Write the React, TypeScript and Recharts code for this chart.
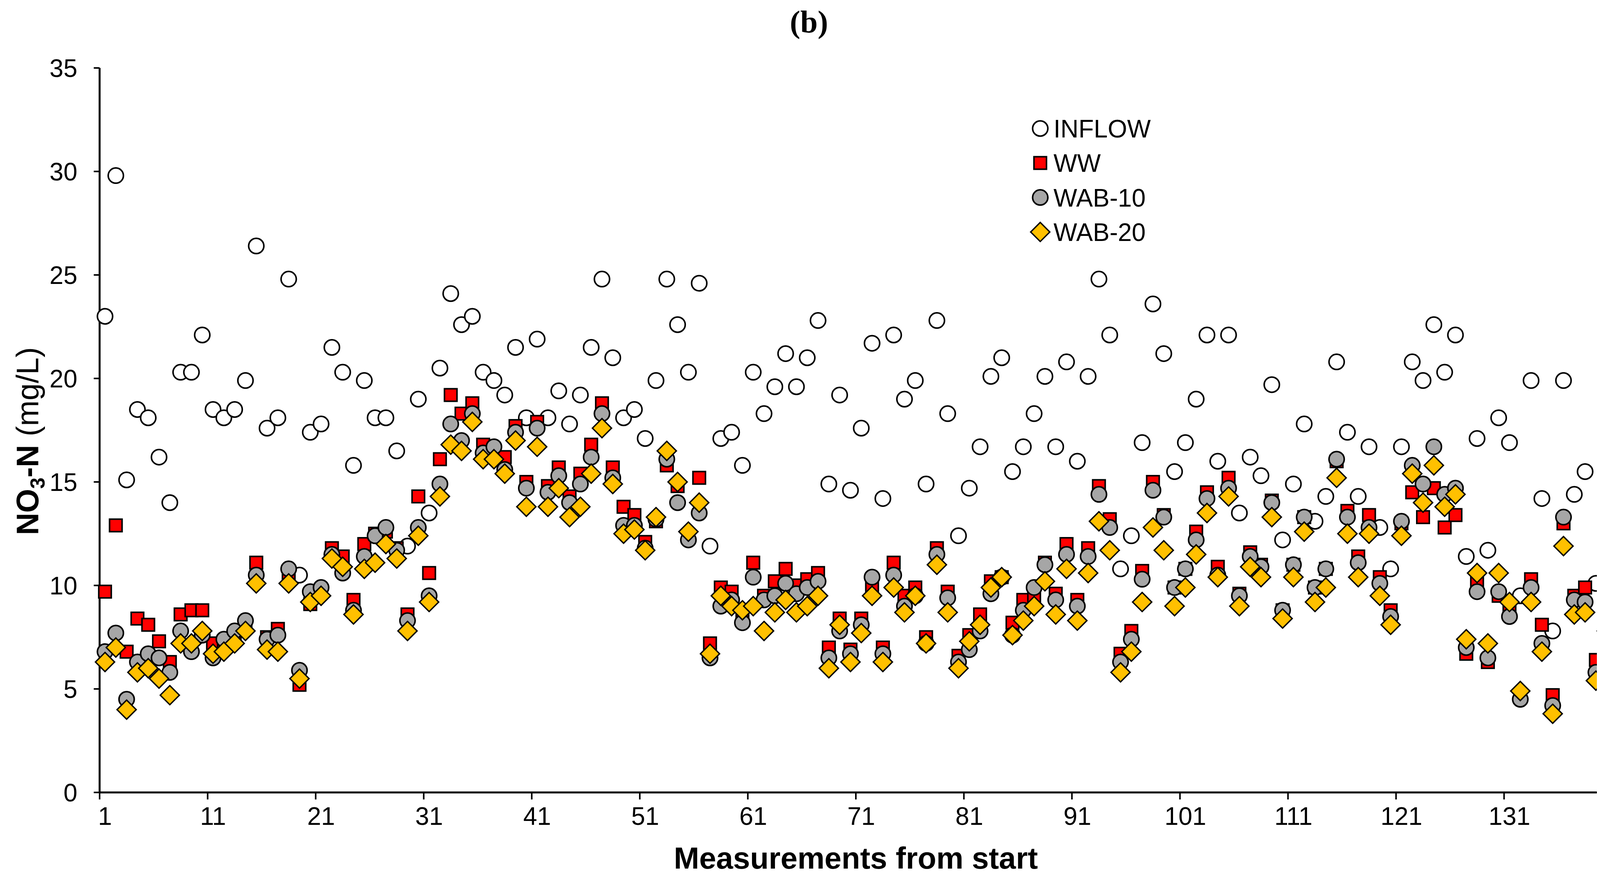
import React from "react";
import {
  ScatterChart,
  Scatter,
  XAxis,
  YAxis,
  Legend,
  Label,
} from "recharts";

// NO3-N concentrations (mg/L), measurements 1..140
const inflow = [
  23.0, 29.8, 15.1, 18.5, 18.1, 16.2, 14.0, 20.3, 20.3, 22.1,
  18.5, 18.1, 18.5, 19.9, 26.4, 17.6, 18.1, 24.8, 10.5, 17.4,
  17.8, 21.5, 20.3, 15.8, 19.9, 18.1, 18.1, 16.5, 11.9, 19.0,
  13.5, 20.5, 24.1, 22.6, 23.0, 20.3, 19.9, 19.2, 21.5, 18.1,
  21.9, 18.1, 19.4, 17.8, 19.2, 21.5, 24.8, 21.0, 18.1, 18.5,
  17.1, 19.9, 24.8, 22.6, 20.3, 24.6, 11.9, 17.1, 17.4, 15.8,
  20.3, 18.3, 19.6, 21.2, 19.6, 21.0, 22.8, 14.9, 19.2, 14.6,
  17.6, 21.7, 14.2, 22.1, 19.0, 19.9, 14.9, 22.8, 18.3, 12.4,
  14.7, 16.7, 20.1, 21.0, 15.5, 16.7, 18.3, 20.1, 16.7, 20.8,
  16.0, 20.1, 24.8, 22.1, 10.8, 12.4, 16.9, 23.6, 21.2, 15.5,
  16.9, 19.0, 22.1, 16.0, 22.1, 13.5, 16.2, 15.3, 19.7, 12.2,
  14.9, 17.8, 13.1, 14.3, 20.8, 17.4, 14.3, 16.7, 12.8, 10.8,
  16.7, 20.8, 19.9, 22.6, 20.3, 22.1, 11.4, 17.1, 11.7, 18.1,
  16.9, 9.5, 19.9, 14.2, 7.8, 19.9, 14.4, 15.5, 10.1, 15.1,
];

const ww = [
  9.7, 12.9, 6.8, 8.4, 8.1, 7.3, 6.3, 8.6, 8.8, 8.8,
  7.2, 7.3, 7.6, 8.2, 11.1, 7.5, 7.9, 10.6, 5.2, 9.1,
  9.7, 11.8, 11.4, 9.3, 12.0, 12.5, 12.6, 11.8, 8.6, 14.3,
  10.6, 16.1, 19.2, 18.3, 18.8, 16.8, 16.6, 16.2, 17.7, 15.0,
  17.9, 14.8, 15.7, 14.3, 15.4, 16.8, 18.8, 15.7, 13.8, 13.4,
  12.1, 13.1, 15.8, 14.8, 12.4, 15.2, 7.2, 9.9, 9.7, 8.6,
  11.1, 9.5, 10.2, 10.8, 10.0, 10.3, 10.6, 7.0, 8.4, 6.9,
  8.4, 9.9, 7.0, 11.1, 9.5, 9.9, 7.5, 11.8, 9.7, 6.6,
  7.6, 8.6, 10.2, 10.4, 8.2, 9.3, 9.5, 11.1, 9.6, 12.0,
  9.3, 11.8, 14.8, 13.2, 6.7, 7.8, 10.7, 15.0, 13.4, 9.9,
  10.8, 12.6, 14.5, 10.9, 15.2, 9.6, 11.6, 11.0, 14.1, 8.8,
  11.0, 13.3, 9.9, 10.8, 16.0, 13.6, 11.4, 13.4, 10.4, 8.8,
  13.0, 14.5, 13.3, 14.7, 12.8, 13.4, 6.7, 10.2, 6.3, 9.5,
  9.0, 4.6, 10.3, 8.1, 4.7, 13.0, 9.5, 9.9, 6.4, 8.4,
];

const wab10 = [
  6.8, 7.7, 4.5, 6.3, 6.7, 6.5, 5.8, 7.8, 6.8, 7.6,
  6.5, 7.4, 7.8, 8.3, 10.5, 7.4, 7.6, 10.8, 5.9, 9.7,
  9.9, 11.5, 10.6, 8.8, 11.4, 12.4, 12.8, 11.7, 8.3, 12.8,
  9.5, 14.9, 17.8, 17.0, 18.3, 16.4, 16.7, 15.6, 17.4, 14.7,
  17.6, 14.5, 15.3, 14.0, 14.9, 16.2, 18.3, 15.2, 12.9, 12.9,
  11.8, 13.2, 16.1, 14.0, 12.2, 13.5, 6.5, 9.0, 9.3, 8.2,
  10.4, 9.3, 9.5, 10.1, 9.6, 9.9, 10.2, 6.5, 7.8, 6.7,
  8.1, 10.4, 6.7, 10.5, 9.0, 9.5, 7.2, 11.5, 9.4, 6.3,
  6.9, 7.8, 9.6, 10.4, 7.6, 8.8, 9.9, 11.0, 9.3, 11.5,
  9.0, 11.4, 14.4, 12.8, 6.3, 7.4, 10.3, 14.6, 13.3, 9.9,
  10.8, 12.2, 14.2, 10.5, 14.7, 9.5, 11.4, 10.9, 14.0, 8.8,
  11.0, 13.3, 9.9, 10.8, 16.1, 13.3, 11.1, 12.8, 10.1, 8.5,
  13.1, 15.8, 14.9, 16.7, 14.4, 14.7, 7.0, 9.7, 6.5, 9.7,
  8.5, 4.5, 9.9, 7.2, 4.2, 13.3, 9.3, 9.2, 5.8, 8.1,
];

const wab20 = [
  6.3, 7.0, 4.0, 5.8, 6.0, 5.5, 4.7, 7.2, 7.2, 7.8,
  6.7, 6.8, 7.2, 7.8, 10.1, 6.9, 6.8, 10.1, 5.5, 9.2,
  9.5, 11.3, 10.9, 8.6, 10.8, 11.1, 12.0, 11.3, 7.8, 12.4,
  9.2, 14.3, 16.8, 16.5, 17.9, 16.1, 16.1, 15.4, 17.0, 13.8,
  16.7, 13.8, 14.7, 13.3, 13.8, 15.4, 17.6, 14.9, 12.5, 12.7,
  11.7, 13.3, 16.5, 15.0, 12.6, 14.0, 6.7, 9.5, 9.0, 8.8,
  9.0, 7.8, 8.7, 9.3, 8.7, 9.0, 9.5, 6.0, 8.1, 6.3,
  7.7, 9.5, 6.3, 9.9, 8.7, 9.5, 7.2, 11.0, 8.7, 6.0,
  7.3, 8.1, 9.9, 10.4, 7.6, 8.3, 9.0, 10.2, 8.6, 10.8,
  8.3, 10.6, 13.1, 11.7, 5.8, 6.8, 9.2, 12.8, 11.7, 9.0,
  9.9, 11.5, 13.5, 10.4, 14.3, 9.0, 10.9, 10.4, 13.3, 8.4,
  10.4, 12.6, 9.2, 9.9, 15.2, 12.5, 10.4, 12.5, 9.5, 8.1,
  12.4, 15.4, 14.0, 15.8, 13.8, 14.4, 7.4, 10.6, 7.2, 10.6,
  9.2, 4.9, 9.2, 6.8, 3.8, 11.9, 8.6, 8.7, 5.4, 7.8,
];

// tick marks sit on category boundaries, labels on the categories
const xTickBounds = [0.5, 10.5, 20.5, 30.5, 40.5, 50.5, 60.5, 70.5, 80.5, 90.5, 100.5, 110.5, 120.5, 130.5, 140.5];
const xTickLabels = [1, 11, 21, 31, 41, 51, 61, 71, 81, 91, 101, 111, 121, 131];
const yTicks = [0, 5, 10, 15, 20, 25, 30, 35];

const seriesNames = ["INFLOW", "WW", "WAB-10", "WAB-20"];

const toPoints = (values: number[]) => values.map((y, i) => ({ x: i + 1, y }));

const FONT = "'Liberation Sans', Arial, sans-serif";
const W = 4142;
const H = 2250;
const MARGIN = { top: 166, right: 23, bottom: 0, left: 0 };
const Y_AXIS_W = 247;
const X_AXIS_H = 229;
const BAND = (W - MARGIN.left - MARGIN.right - Y_AXIS_W) / 140;

function CircleMark({ cx, cy, fill }: any) {
  if (cx == null || cy == null) return null;
  return <circle cx={cx} cy={cy} r={19.5} fill={fill} stroke="#000" strokeWidth={4} />;
}

function SquareMark({ cx, cy }: any) {
  if (cx == null || cy == null) return null;
  return <rect x={cx - 16} y={cy - 16} width={32} height={32} fill="#FF0000" stroke="#000" strokeWidth={4} />;
}

function DiamondMark({ cx, cy }: any) {
  if (cx == null || cy == null) return null;
  const r = 24.5;
  return (
    <polygon
      points={`${cx},${cy - r} ${cx + r},${cy} ${cx},${cy + r} ${cx - r},${cy}`}
      fill="#FFC000"
      stroke="#000"
      strokeWidth={3.5}
    />
  );
}

function XTick({ x, y, payload }: any) {
  const label = payload.value + 0.5;
  if (!xTickLabels.includes(label)) return null;
  return (
    <text x={x + BAND / 2} y={y} dy="0.71em" textAnchor="middle" fontSize={64} fontFamily={FONT} fill="#000">
      {label}
    </text>
  );
}

function YTitle({ viewBox }: any) {
  const cx = 62;
  const cy = viewBox.y + viewBox.height / 2 + 28;
  return (
    <text
      x={cx}
      y={cy}
      transform={`rotate(-90 ${cx} ${cy})`}
      textAnchor="middle"
      dy="0.36em"
      fontSize={79}
      fontFamily={FONT}
      fill="#000"
    >
      <tspan fontWeight="bold">NO</tspan>
      <tspan fontWeight="bold" fontSize={52} dy="0.3em">3</tspan>
      <tspan fontWeight="bold" dy="-0.2em">-N</tspan>
      <tspan> (mg/L)</tspan>
    </text>
  );
}

function LegendBox() {
  const rowY = (k: number) => 51 + k * 88.3;
  return (
    <svg width={420} height={370} style={{ overflow: "visible" }}>
      <CircleMark cx={35} cy={rowY(0)} fill="#FFFFFF" />
      <SquareMark cx={35} cy={rowY(1)} />
      <CircleMark cx={35} cy={rowY(2)} fill="#A6A6A6" />
      <DiamondMark cx={35} cy={rowY(3)} />
      {seriesNames.map((name, k) => (
        <text key={name} x={69} y={rowY(k)} dy="0.36em" fontSize={64} fontFamily={FONT} fill="#000">
          {name}
        </text>
      ))}
    </svg>
  );
}

export default function App() {
  return (
    <div style={{ position: "relative", width: W, height: H }}>
      <div
        style={{
          position: "absolute",
          left: 0,
          width: 4126,
          top: 8,
          textAlign: "center",
          fontFamily: "'Liberation Serif', 'Times New Roman', serif",
          fontWeight: "bold",
          fontSize: 80,
          lineHeight: "80px",
          zIndex: 2,
        }}
      >
        (b)
      </div>
      <ScatterChart width={W} height={H} margin={MARGIN}>
        <XAxis
          type="number"
          dataKey="x"
          domain={[0.5, 140.5]}
          ticks={xTickBounds}
          interval={0}
          height={X_AXIS_H}
          tickSize={18}
          tickMargin={20}
          tick={<XTick />}
          tickLine={{ stroke: "#000", strokeWidth: 4 }}
          axisLine={{ stroke: "#000", strokeWidth: 5 }}
        >
          <Label
            value="Measurements from start"
            position="insideBottom"
            offset={34}
            fontSize={78}
            fontWeight="bold"
            fontFamily={FONT}
            fill="#000"
          />
        </XAxis>
        <YAxis
          type="number"
          dataKey="y"
          domain={[0, 35]}
          ticks={yTicks}
          interval={0}
          width={Y_AXIS_W}
          tickSize={15}
          tickMargin={42}
          tick={{ fontSize: 64, fontFamily: FONT, fill: "#000" }}
          tickLine={{ stroke: "#000", strokeWidth: 4 }}
          axisLine={{ stroke: "#000", strokeWidth: 5 }}
        >
          <Label content={<YTitle />} />
        </YAxis>
        <Legend
          layout="vertical"
          align="center"
          verticalAlign="middle"
          content={<LegendBox />}
          wrapperStyle={{ position: "absolute", left: 2620, top: 270, width: 420, height: 370 }}
        />
        <Scatter name="INFLOW" data={toPoints(inflow)} shape={<CircleMark fill="#FFFFFF" />} isAnimationActive={false} />
        <Scatter name="WW" data={toPoints(ww)} shape={<SquareMark />} isAnimationActive={false} />
        <Scatter name="WAB-10" data={toPoints(wab10)} shape={<CircleMark fill="#A6A6A6" />} isAnimationActive={false} />
        <Scatter name="WAB-20" data={toPoints(wab20)} shape={<DiamondMark />} isAnimationActive={false} />
      </ScatterChart>
    </div>
  );
}
